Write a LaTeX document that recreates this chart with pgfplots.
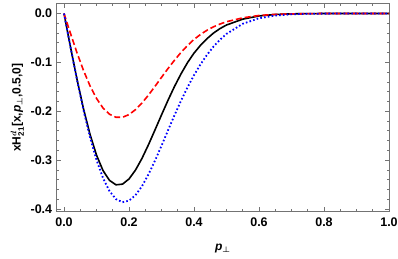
\documentclass[border=0pt]{standalone}
\usepackage{amsmath}
\usepackage{fontspec}
\setmainfont{Liberation Sans}
\usepackage{pgfplots}
\pgfplotsset{compat=1.18}
\begin{document}
\begin{tikzpicture}[x=1pt,y=1pt]
\begin{axis}[
  scale only axis,
  width=332.3pt, height=208.2pt,
  xmin=-0.0225, xmax=1.0,
  ymin=-0.4055, ymax=0.0205,
  xtick={0,0.2,0.4,0.6,0.8,1.0},
  ytick={-0.4,-0.3,-0.2,-0.1,0},
  minor x tick num=3,
  minor y tick num=4,
  tick align=inside,
  major tick length=4.5pt,
  minor tick length=2.5pt,
  axis line style={draw=black!55, line width=1pt},
  every tick/.style={black!55, line width=0.8pt},
  xticklabel style={font=\fontsize{12.5}{14}\selectfont\bfseries, yshift=-3pt},
  yticklabel style={font=\fontsize{12.5}{14}\selectfont\bfseries, xshift=-1pt},
  xticklabel={\pgfmathprintnumber[fixed,fixed zerofill,precision=1]{\tick}},
  yticklabel={\pgfmathprintnumber[fixed,fixed zerofill,precision=1]{\tick}},
  /pgf/number format/assume math mode=true,
  xlabel={\bfseries\itshape p\/$_{\boldsymbol{\perp}}$},
  ylabel={\bfseries xH$^{\boldsymbol{d}}_{\mathbf{21}}$[x,\textit{p}$_{\boldsymbol{\perp}}$,0.5,0]},
  xlabel style={font=\fontsize{12}{14}\selectfont, yshift=-10pt},
  ylabel style={font=\fontsize{12}{14}\selectfont, yshift=0pt},
  clip=true,
]
\addplot[black, line width=1.6pt] coordinates {
(0,0) (0.02,-0.0688) (0.04,-0.1347) (0.06,-0.1950) (0.08,-0.2472) (0.10,-0.2897)
(0.12,-0.3213) (0.14,-0.3415) (0.16,-0.3505) (0.18,-0.3491) (0.20,-0.3385)
(0.22,-0.3203) (0.24,-0.2963) (0.26,-0.2683) (0.28,-0.2381) (0.30,-0.2075)
(0.32,-0.1775) (0.34,-0.1492) (0.36,-0.1235) (0.38,-0.1005) (0.40,-0.0810)
(0.42,-0.0650) (0.44,-0.0515) (0.46,-0.0400) (0.48,-0.0308) (0.50,-0.0235)
(0.55,-0.0115) (0.60,-0.0050) (0.65,-0.0020) (0.70,-0.0007) (0.75,-0.0002)
(0.80,0) (0.90,0) (1.0,0)
};
\addplot[red, line width=1.6pt, dash pattern=on 6pt off 3pt] coordinates {
(0,0) (0.02,-0.0410) (0.04,-0.0804) (0.06,-0.1165) (0.08,-0.1480) (0.10,-0.1738)
(0.12,-0.1933) (0.14,-0.2061) (0.16,-0.2123) (0.18,-0.2123) (0.20,-0.2068)
(0.22,-0.1967) (0.24,-0.1830) (0.26,-0.1668) (0.28,-0.1490) (0.30,-0.1306)
(0.32,-0.1126) (0.34,-0.0955) (0.36,-0.0796) (0.38,-0.0655) (0.40,-0.0530)
(0.42,-0.0428) (0.44,-0.0342) (0.46,-0.0272) (0.48,-0.0215) (0.50,-0.0168)
(0.55,-0.0088) (0.60,-0.0040) (0.65,-0.0017) (0.70,-0.0007) (0.75,-0.0002)
(0.80,0) (0.90,0) (1.0,0)
};
\addplot[blue, line width=1.8pt, dash pattern=on 1.6pt off 2.2pt] coordinates {
(0,0) (0.02,-0.0692) (0.04,-0.1358) (0.06,-0.1978) (0.08,-0.2529) (0.10,-0.2996)
(0.12,-0.3366) (0.14,-0.3634) (0.16,-0.3798) (0.18,-0.3860) (0.20,-0.3829)
(0.22,-0.3716) (0.24,-0.3533) (0.26,-0.3290) (0.28,-0.3010) (0.30,-0.2705)
(0.32,-0.2390) (0.34,-0.2080) (0.36,-0.1785) (0.38,-0.1510) (0.40,-0.1262)
(0.42,-0.1040) (0.44,-0.0845) (0.46,-0.0677) (0.48,-0.0535) (0.50,-0.0417)
(0.55,-0.0210) (0.60,-0.0097) (0.65,-0.0041) (0.70,-0.0016) (0.75,-0.0006)
(0.80,-0.0002) (0.90,0) (1.0,0)
};
\end{axis}
\pgfresetboundingbox
\path (current axis.south west) ++(-56.7pt,-46.3pt) rectangle ++(398pt,258pt);
\end{tikzpicture}
\end{document}
